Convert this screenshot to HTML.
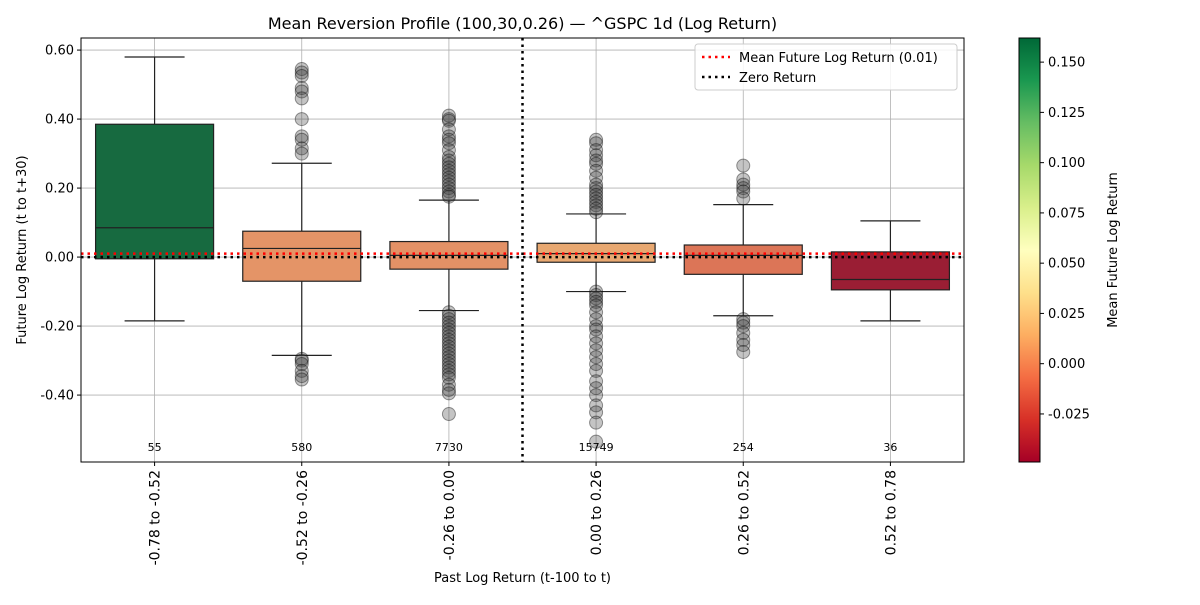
<!DOCTYPE html>
<html><head><meta charset="utf-8"><style>
body{margin:0;background:#fff;font-family:"Liberation Sans","DejaVu Sans",sans-serif}
svg text{font-family:"DejaVu Sans","Liberation Sans",sans-serif}
</style></head><body>
<svg id="chart" width="1200" height="600" xmlns="http://www.w3.org/2000/svg"></svg>
<script>
const categories=["-0.78 to -0.52","-0.52 to -0.26","-0.26 to 0.00","0.00 to 0.26","0.26 to 0.52","0.52 to 0.78"];
const counts=[55,580,7730,15749,254,36];
const q1=[-0.005,-0.07,-0.035,-0.015,-0.05,-0.095];
const q3=[0.385,0.075,0.045,0.04,0.035,0.015];
const medians=[0.085,0.025,0.005,0.01,0.005,-0.065];
const whiskLo=[-0.185,-0.285,-0.155,-0.10,-0.17,-0.185];
const whiskHi=[0.58,0.272,0.165,0.125,0.152,0.105];
const means=[0.155,0.004,0.003,0.012,-0.008,-0.045];
const outliers=[
 [],
 [0.545,0.535,0.525,0.49,0.48,0.46,0.40,0.35,0.34,0.315,0.30,-0.295,-0.30,-0.31,-0.33,-0.345,-0.355],
 [0.41,0.40,0.395,0.37,0.35,0.34,0.33,0.31,0.29,0.28,0.27,0.26,0.25,0.24,0.23,0.22,0.21,0.20,0.19,0.18,0.175,-0.16,-0.17,-0.18,-0.19,-0.20,-0.21,-0.22,-0.23,-0.24,-0.25,-0.26,-0.27,-0.28,-0.29,-0.30,-0.31,-0.32,-0.33,-0.34,-0.35,-0.37,-0.385,-0.395,-0.455],
 [0.34,0.33,0.31,0.295,0.28,0.27,0.25,0.23,0.21,0.20,0.19,0.18,0.17,0.16,0.15,0.14,0.13,-0.10,-0.11,-0.12,-0.13,-0.14,-0.16,-0.18,-0.20,-0.21,-0.23,-0.25,-0.27,-0.29,-0.31,-0.33,-0.36,-0.38,-0.40,-0.43,-0.45,-0.48,-0.535],
 [0.265,0.225,0.21,0.20,0.19,0.17,-0.18,-0.19,-0.20,-0.22,-0.24,-0.255,-0.275],
 []
];
const yTicks=[0.6,0.4,0.2,0,-0.2,-0.4];
const cbTicks=[0.15,0.125,0.1,0.075,0.05,0.025,0,-0.025];
const meanLine=0.01;

const NS="http://www.w3.org/2000/svg";
const svg=document.getElementById('chart');
const L=81,R=964,T=38,B=462;
const yMin=-0.594,yMax=0.635;
const y=v=>T+(yMax-v)/(yMax-yMin)*(B-T);
const bw=(R-L)/categories.length;
const xc=i=>L+bw*(i+0.5);
const cMin=-0.0489,cMax=0.162;
const cy=v=>T+(cMax-v)/(cMax-cMin)*(B-T);
const stops=["#a50026","#d73027","#f46d43","#fdae61","#fee08b","#ffffbf","#d9ef8b","#a6d96a","#66bd63","#1a9850","#006837"];
function hex(h){return [1,3,5].map(k=>parseInt(h.substr(k,2),16));}
function cmapRGB(t){t=Math.max(0,Math.min(1,t));const p=t*(stops.length-1);const i=Math.min(Math.floor(p),stops.length-2);const f=p-i;const a=hex(stops[i]),b=hex(stops[i+1]);return a.map((c,k)=>c+(b[k]-c)*f);}
function cmap(t){return "rgb("+cmapRGB(t).map(Math.round).join(",")+")";}
function desat(rgb,s){
 let [r,g,b]=rgb.map(c=>c/255);const mx=Math.max(r,g,b),mn=Math.min(r,g,b);const l=(mx+mn)/2;
 if(mx===mn)return "rgb("+rgb.map(Math.round).join(",")+")";
 const d=mx-mn;let sat=l>0.5?d/(2-mx-mn):d/(mx+mn);let h;
 if(mx===r)h=((g-b)/d+(g<b?6:0));else if(mx===g)h=(b-r)/d+2;else h=(r-g)/d+4;h/=6;
 sat*=s;
 const q=l<0.5?l*(1+sat):l+sat-l*sat,p=2*l-q;
 const hf=t=>{if(t<0)t+=1;if(t>1)t-=1;if(t<1/6)return p+(q-p)*6*t;if(t<1/2)return q;if(t<2/3)return p+(q-p)*(2/3-t)*6;return p;};
 return "rgb("+[hf(h+1/3),hf(h),hf(h-1/3)].map(v=>Math.round(v*255)).join(",")+")";
}
function el(tag,attrs,parent){const e=document.createElementNS(NS,tag);for(const k in attrs)e.setAttribute(k,attrs[k]);(parent||svg).appendChild(e);return e;}
function txt(s,attrs,parent){const e=el('text',attrs,parent);e.textContent=s;return e;}

const grid=el('g',{});


yTicks.forEach(v=>el('line',{x1:L,x2:R,y1:y(v),y2:y(v),stroke:'#b0b0b0','stroke-width':0.8},grid));
categories.forEach((c,i)=>el('line',{x1:xc(i),x2:xc(i),y1:T,y2:B,stroke:'#b0b0b0','stroke-width':0.8},grid));

categories.forEach((c,i)=>{
 const g=el('g',{});
 
 
 const x=xc(i),hw=59;
 el('line',{x1:x,x2:x,y1:y(q3[i]),y2:y(whiskHi[i]),stroke:'#222','stroke-width':1.2},g);
 el('line',{x1:x,x2:x,y1:y(q1[i]),y2:y(whiskLo[i]),stroke:'#222','stroke-width':1.2},g);
 el('line',{x1:x-30,x2:x+30,y1:y(whiskHi[i]),y2:y(whiskHi[i]),stroke:'#222','stroke-width':1.2},g);
 el('line',{x1:x-30,x2:x+30,y1:y(whiskLo[i]),y2:y(whiskLo[i]),stroke:'#222','stroke-width':1.2},g);
 el('rect',{x:x-hw,y:y(q3[i]),width:2*hw,height:y(q1[i])-y(q3[i]),fill:desat(cmapRGB((means[i]-cMin)/(cMax-cMin)),0.75),stroke:'#222','stroke-width':1.2},g);
 el('line',{x1:x-hw,x2:x+hw,y1:y(medians[i]),y2:y(medians[i]),stroke:'#222','stroke-width':1.2},g);
 outliers[i].forEach(v=>{const o=el('circle',{cx:x,cy:y(v),r:6.5,fill:'rgba(60,60,60,0.3)',stroke:'rgba(0,0,0,0.4)','stroke-width':1},g);
  
  });
 const t=txt(String(counts[i]),{x:x,y:451,'font-size':11,'text-anchor':'middle'},g);
 
 
});

const ml=el('line',{x1:L,x2:R,y1:y(meanLine),y2:y(meanLine),stroke:'#ff0000','stroke-width':2.5,'stroke-dasharray':'2.5 4'});


const zl=el('line',{x1:L,x2:R,y1:y(0),y2:y(0),stroke:'#000','stroke-width':2.5,'stroke-dasharray':'2.5 4'});


const vl=el('line',{x1:(xc(2)+xc(3))/2,x2:(xc(2)+xc(3))/2,y1:T,y2:B,stroke:'#000','stroke-width':2.5,'stroke-dasharray':'2.5 4'});



const fr=el('rect',{x:L,y:T,width:R-L,height:B-T,fill:'none',stroke:'#000','stroke-width':1});


yTicks.forEach(v=>{el('line',{x1:L-4,x2:L,y1:y(v),y2:y(v),stroke:'#000'});
 const t=txt(v.toFixed(2),{x:L-7,y:y(v)+4.5,'font-size':13,'text-anchor':'end'});
 
 });
categories.forEach((c,i)=>{el('line',{x1:xc(i),x2:xc(i),y1:B,y2:B+4,stroke:'#000'});
 const t=txt(c,{x:0,y:0,'font-size':14,'text-anchor':'end',transform:`translate(${xc(i)+5},${B+8}) rotate(-90)`});
 
 });
const title=txt("Mean Reversion Profile (100,30,0.26) — ^GSPC 1d (Log Return)",{x:(L+R)/2,y:29,'font-size':16,'text-anchor':'middle'});


const xt=txt("Past Log Return (t-100 to t)",{x:(L+R)/2,y:582,'font-size':13,'text-anchor':'middle'});


const yt=txt("Future Log Return (t to t+30)",{x:0,y:0,'font-size':13,'text-anchor':'middle',transform:`translate(26,${(T+B)/2}) rotate(-90)`});



const lg=el('g',{});


el('rect',{x:695,y:44,width:262,height:46,rx:3,fill:'rgba(255,255,255,0.85)',stroke:'#ccc'},lg);
el('line',{x1:702,x2:730,y1:57,y2:57,stroke:'#f00','stroke-width':2.5,'stroke-dasharray':'2.5 4'},lg);
el('line',{x1:702,x2:730,y1:77,y2:77,stroke:'#000','stroke-width':2.5,'stroke-dasharray':'2.5 4'},lg);
txt("Mean Future Log Return (0.01)",{x:739,y:62,'font-size':13},lg);
txt("Zero Return",{x:739,y:82,'font-size':13},lg);

const defs=el('defs',{});
const gr=el('linearGradient',{id:'cb',x1:0,y1:1,x2:0,y2:0},defs);
stops.forEach((s,k)=>el('stop',{offset:k/(stops.length-1),'stop-color':s},gr));
const cb=el('rect',{x:1019,y:T,width:21,height:B-T,fill:'url(#cb)',stroke:'#000','stroke-width':1});


cbTicks.forEach(v=>{el('line',{x1:1040,x2:1044,y1:cy(v),y2:cy(v),stroke:'#000'});
 const t=txt(v.toFixed(3),{x:1048,y:cy(v)+4.5,'font-size':13});
 
 });
const ct=txt("Mean Future Log Return",{x:0,y:0,'font-size':13,'text-anchor':'middle',transform:`translate(1117,${(T+B)/2}) rotate(-90)`});


</script>
</body></html>
